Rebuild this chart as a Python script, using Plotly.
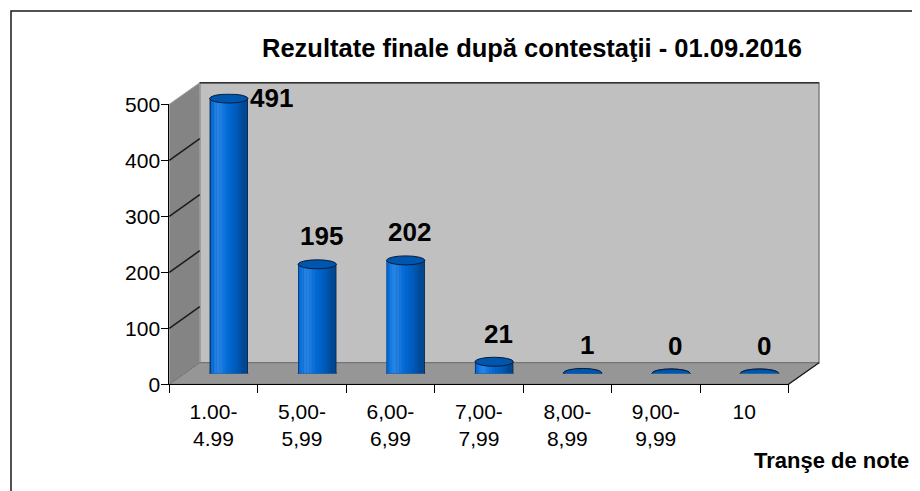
import math
import plotly.graph_objects as go

# ---------------- data ----------------
categories = ["1.00-<br>4.99", "5,00-<br>5,99", "6,00-<br>6,99", "7,00-<br>7,99",
              "8,00-<br>8,99", "9,00-<br>9,99", "10"]
values = [491, 195, 202, 21, 1, 0, 0]
y_ticks = [0, 100, 200, 300, 400, 500]
title_text = "Rezultate finale după contestaţii - 01.09.2016"
x_title = "Tranşe de note"

# ---------------- geometry (window pixels) ----------------
WIN_W, WIN_H = 920, 491
OFF = 8                                # default page body margin
W, H = WIN_W - OFF, WIN_H - OFF        # figure fits exactly inside the window
YMAX = 500
FX0, FX1 = 169.3, 788.5                # front plane x extent
FY0, FYT = 384.3, 104.3                # front plane y of 0 and of YMAX
DX, DY = 30.5, -21.6                   # depth offset front -> back wall
BAR_W = 0.434                          # cylinder width in category units
FONT = "Liberation Sans, Arial, sans-serif"


def px(x):
    return (x - OFF) / W


def py(y):
    return 1 - (y - OFF) / H


def fy(v, depth=0.0):
    return FY0 + (FYT - FY0) * v / YMAX + DY * depth


def fx(x, depth=0.0):
    return x + DX * depth


def path(points):
    return "M " + " L ".join(f"{px(a):.5f},{py(b):.5f}" for a, b in points) + " Z"


fig = go.Figure()

# ---------------- cylinder bodies (overlayed strips give the shading) ----------------
fig.add_trace(go.Bar(x=categories, y=values, xaxis="x2", yaxis="y2",
                     width=BAR_W, offset=-BAR_W / 2, marker_color="#0b1c3c",
                     marker_line_width=0, hoverinfo="skip", showlegend=False))
N = 24
edge = 0.011
inner = BAR_W - 2 * edge
base = (0, 100, 204)
for k in range(N):
    u = -1 + (k + 0.5) * 2 / N
    theta = math.asin(max(-1, min(1, u)))
    d = max(0.0, math.cos(theta + 0.6))
    inten = 0.72 + 0.38 * d
    spec = d ** 12 * 0.15
    col = [min(255, int(c * inten + (255 - c * inten) * spec)) for c in base]
    fig.add_trace(go.Bar(x=categories, y=values, xaxis="x2", yaxis="y2",
                         width=inner / N * 1.15,
                         offset=-inner / 2 + k * inner / N,
                         marker_color=f"rgb({col[0]},{col[1]},{col[2]})",
                         marker_line_width=0, hoverinfo="skip", showlegend=False))

# invisible trace that carries the front category axis
fig.add_trace(go.Scatter(x=categories, y=values, xaxis="x3", yaxis="y3", mode="markers",
                         marker=dict(opacity=0), hoverinfo="skip", showlegend=False))

shapes = []
# ---------------- walls ----------------
back = [(fx(FX0, 1), fy(0, 1)), (fx(FX1, 1), fy(0, 1)), (fx(FX1, 1), fy(YMAX, 1)), (fx(FX0, 1), fy(YMAX, 1))]
left = [(FX0, fy(0)), (FX0, fy(YMAX)), (fx(FX0, 1), fy(YMAX, 1)), (fx(FX0, 1), fy(0, 1))]
floor = [(FX0, fy(0)), (FX1, fy(0)), (fx(FX1, 1), fy(0, 1)), (fx(FX0, 1), fy(0, 1))]
shapes.append(dict(type="path", xref="paper", yref="paper", path=path(back),
                   fillcolor="#c0c0c0", line=dict(color="#808080", width=1.5), layer="below"))
shapes.append(dict(type="path", xref="paper", yref="paper", path=path(left),
                   fillcolor="#848484", line=dict(color="#a0a0a0", width=1), layer="below"))
shapes.append(dict(type="path", xref="paper", yref="paper", path=path(floor),
                   fillcolor="#969696", line=dict(color="#707070", width=1), layer="below"))
shapes.append(dict(type="line", xref="paper", yref="paper",
                   x0=px(fx(FX0, 1)), x1=px(fx(FX1, 1)), y0=py(fy(YMAX, 1)), y1=py(fy(YMAX, 1)),
                   line=dict(color="#303030", width=1.5), layer="below"))
for v in y_ticks[1:-1]:
    shapes.append(dict(type="line", xref="paper", yref="paper",
                       x0=px(FX0), y0=py(fy(v)), x1=px(fx(FX0, 1)), y1=py(fy(v, 1)),
                       line=dict(color="#1a1a1a", width=1.5), layer="below"))
shapes.append(dict(type="line", xref="paper", yref="paper",
                   x0=px(FX1), y0=py(fy(0)), x1=px(fx(FX1, 1)), y1=py(fy(0, 1)),
                   line=dict(color="#1a1a1a", width=1.3), layer="below"))
# chart border
shapes.append(dict(type="rect", xref="paper", yref="paper",
                   x0=px(11), x1=px(913), y0=py(11), y1=py(530),
                   line=dict(color="#1a1a1a", width=1.5), fillcolor="rgba(0,0,0,0)", layer="below"))

# ---------------- cylinder ends ----------------
for i, v in enumerate(values):
    shapes.append(dict(type="circle", xref="x2", yref="y2",
                       x0=i - BAR_W / 2, x1=i + BAR_W / 2,
                       ysizemode="pixel", yanchor=0, y0=-4.5, y1=4.5,
                       fillcolor="#005cbc", line=dict(color="#0b1c3c", width=1), layer="below"))
    shapes.append(dict(type="circle", xref="x2", yref="y2",
                       x0=i - BAR_W / 2, x1=i + BAR_W / 2,
                       ysizemode="pixel", yanchor=v, y0=-4.5, y1=4.5,
                       fillcolor="#0055ac", line=dict(color="#0b1c3c", width=1), layer="above"))

# ---------------- annotations ----------------
annotations = []
lab_font = dict(family=FONT, size=26, color="black", weight="bold")
for i, v in enumerate(values):
    if v > 0.9 * YMAX:
        annotations.append(dict(xref="x2", yref="y2", x=i, y=v, text=str(v), showarrow=False,
                                xanchor="left", yanchor="middle",
                                xshift=(FX1 - FX0) / len(values) * BAR_W / 2, yshift=1,
                                font=lab_font))
    else:
        annotations.append(dict(xref="x2", yref="y2", x=i, y=v, text=str(v), showarrow=False,
                                xanchor="center", yanchor="middle", xshift=4, yshift=28,
                                font=lab_font))
annotations.append(dict(xref="paper", yref="paper", x=px(532), y=py(48), text=title_text,
                        showarrow=False, xanchor="center", yanchor="middle",
                        font=dict(family=FONT, size=25.5, color="black", weight="bold")))
annotations.append(dict(xref="paper", yref="paper", x=px(911), y=py(460), text=x_title,
                        showarrow=False, xanchor="right", yanchor="middle",
                        font=dict(family=FONT, size=22, color="black", weight="bold")))

rng_x = [-0.5, len(categories) - 0.5]
fig.update_layout(
    width=W, height=H, autosize=False,
    margin=dict(l=0, r=0, t=0, b=0, pad=0, autoexpand=False),
    paper_bgcolor="white", plot_bgcolor="rgba(0,0,0,0)",
    showlegend=False, barmode="overlay",
    shapes=shapes, annotations=annotations,
    # back wall
    xaxis=dict(domain=[px(fx(FX0, 1)), px(fx(FX1, 1))], range=rng_x, visible=False, automargin=False),
    yaxis=dict(domain=[py(fy(0, 1)), py(fy(YMAX, 1))], range=[0, YMAX], tickvals=y_ticks,
               showticklabels=False, showgrid=True, gridcolor="#1a1a1a", gridwidth=1.5,
               zeroline=False, showline=False, ticks="", automargin=False),
    # mid-depth plane holding the cylinders
    xaxis2=dict(domain=[px(fx(FX0, 0.5)), px(fx(FX1, 0.5))], type="category", range=rng_x,
                anchor="y2", visible=False, automargin=False),
    yaxis2=dict(domain=[py(fy(0, 0.5)), py(fy(YMAX, 0.5))], range=[0, YMAX], anchor="x2",
                visible=False, automargin=False),
    # front axes with ticks and labels
    xaxis3=dict(domain=[px(FX0), px(FX1)], type="category", range=rng_x, anchor="y3",
                tickson="boundaries", ticks="outside", ticklen=8, tickcolor="black",
                showline=True, linecolor="black", linewidth=1, showgrid=False, automargin=False,
                ticklabelstandoff=8,
                tickfont=dict(family=FONT, size=21, color="black")),
    yaxis3=dict(domain=[py(fy(0)), py(fy(YMAX))], range=[0, YMAX], anchor="x3",
                tickvals=y_ticks, ticks="outside", ticklen=7, tickcolor="black",
                showline=True, linecolor="black", linewidth=1, showgrid=False, zeroline=False,
                automargin=False, ticklabelstandoff=-3,
                tickfont=dict(family=FONT, size=21, color="black")),
)

fig.write_html("out.html")
